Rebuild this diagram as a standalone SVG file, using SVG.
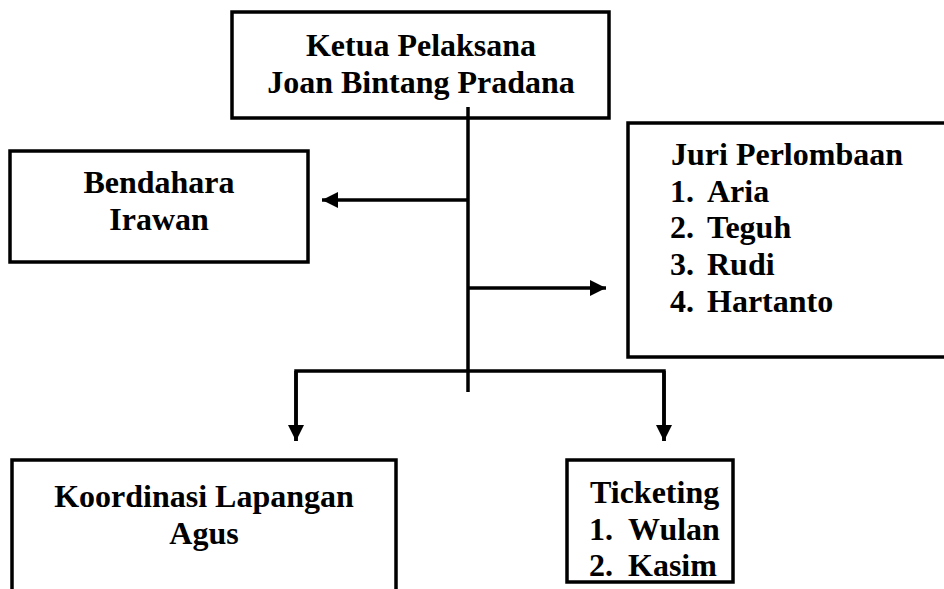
<svg xmlns="http://www.w3.org/2000/svg" width="944" height="589" viewBox="0 0 944 589">
<defs>
<marker id="ah" markerUnits="userSpaceOnUse" markerWidth="16" markerHeight="16" viewBox="0 0 16 16" refX="16" refY="8" orient="auto">
<path d="M0,0 L16,8 L0,16 Z" fill="#000"/>
</marker>
</defs>
<style>
.box{fill:#fff;stroke:#000;stroke-width:3.5}
.t{font-weight:bold;font-size:32px;fill:#000}
.c{text-anchor:middle}
.ln{stroke:#000;stroke-width:3.5;fill:none}
</style>
<rect width="944" height="589" fill="#fff"/>
<g font-family="Liberation Serif, Times New Roman, DejaVu Serif, serif">
<g id="ketua">
<rect class="box" x="232" y="12" width="377" height="106"/>
<text class="t c" x="421" y="56">Ketua Pelaksana</text>
<text class="t c" x="421" y="93">Joan Bintang Pradana</text>
</g>
<g id="bendahara">
<rect class="box" x="10" y="151" width="298" height="111"/>
<text class="t c" x="159" y="193">Bendahara</text>
<text class="t c" x="159" y="230">Irawan</text>
</g>
<g id="juri">
<rect class="box" x="628" y="123" width="330" height="234"/>
<text class="t" x="671" y="165">Juri Perlombaan</text>
<text class="t" x="670" y="202">1.</text><text class="t" x="707" y="202">Aria</text>
<text class="t" x="670" y="238">2.</text><text class="t" x="707" y="238">Teguh</text>
<text class="t" x="670" y="275">3.</text><text class="t" x="707" y="275">Rudi</text>
<text class="t" x="670" y="312">4.</text><text class="t" x="707" y="312">Hartanto</text>
</g>
<g id="koordinasi">
<rect class="box" x="12" y="460" width="384" height="150"/>
<text class="t c" x="204" y="507">Koordinasi Lapangan</text>
<text class="t c" x="204" y="544">Agus</text>
</g>
<g id="ticketing">
<rect class="box" x="567" y="460" width="166" height="122"/>
<text class="t" x="590" y="503">Ticketing</text>
<text class="t" x="589" y="540">1.</text><text class="t" x="628" y="540">Wulan</text>
<text class="t" x="589" y="576">2.</text><text class="t" x="628" y="576">Kasim</text>
</g>
</g>
<g id="connectors">
<line class="ln" x1="468" y1="107" x2="468" y2="392"/>
<line class="ln" x1="468" y1="200" x2="322" y2="200" marker-end="url(#ah)"/>
<line class="ln" x1="468" y1="288" x2="606" y2="288" marker-end="url(#ah)"/>
<path class="ln" d="M296,441 V371 H664 V441"/>
<line class="ln" x1="296" y1="371" x2="296" y2="441" marker-end="url(#ah)"/>
<line class="ln" x1="664" y1="371" x2="664" y2="441" marker-end="url(#ah)"/>
</g>
</svg>
